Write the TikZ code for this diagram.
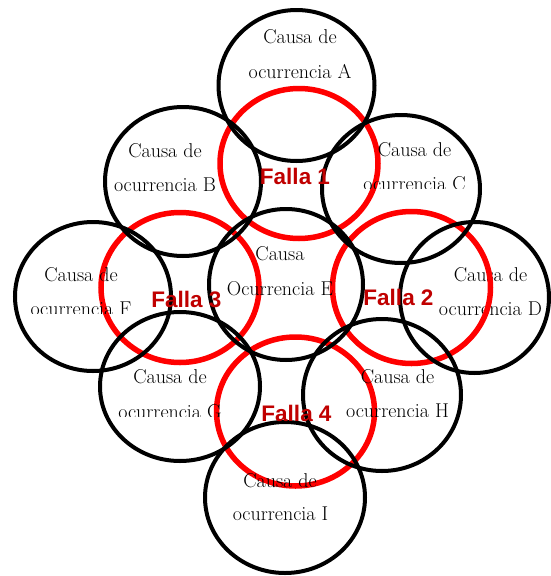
\documentclass[tikz,border=0pt]{standalone}
\usepackage{fontspec}
\newfontfamily\fallafont{Liberation Sans}
\definecolor{fallared}{RGB}{192,0,0}
\definecolor{ringred}{RGB}{255,0,0}
\begin{document}
\begin{tikzpicture}[x=1pt,y=-1pt,
  blackring/.style={draw=black,line width=4pt},
  redring/.style={draw=ringred,line width=5.5pt},
  causa/.style={font=\fontsize{20}{24}\selectfont,anchor=base,inner sep=0pt},
  falla/.style={font=\fallafont\bfseries\fontsize{22.5}{26}\selectfont,text=fallared,anchor=base,inner sep=0pt}]
\useasboundingbox (0,0) rectangle (551,576);
\fill[white] (0,0) rectangle (551,576);

% text of D lies under the red ring
\node[causa] (d1) at (490.5,281) {Causa de};
\node[causa] (d2) at (490.5,315) {ocurrencia D};

% red rings (fallas)
\draw[redring] (299,163.5) ellipse [x radius=79pt, y radius=75pt];
\draw[redring] (180,287.5) ellipse [x radius=79pt, y radius=75pt];
\draw[redring] (411.5,287.5) ellipse [x radius=79pt, y radius=76pt];
\draw[redring] (295.5,411.5) ellipse [x radius=79pt, y radius=74.5pt];

% black rings (causas)
\draw[blackring] (296.5,85.5) ellipse [x radius=78pt, y radius=75.5pt];
\draw[blackring] (183,181.5) ellipse [x radius=78pt, y radius=74.5pt];
\draw[blackring] (401,189) ellipse [x radius=79pt, y radius=74pt];
\draw[blackring] (93,296.5) ellipse [x radius=78pt, y radius=74.5pt];
\draw[blackring] (286,284.5) ellipse [x radius=77pt, y radius=75.5pt];
\draw[blackring] (474.5,297.5) ellipse [x radius=74.5pt, y radius=75.5pt];
\draw[blackring] (180,386.5) ellipse [x radius=80pt, y radius=74.5pt];
\draw[blackring] (382,395) ellipse [x radius=79pt, y radius=76pt];
\draw[blackring] (285,497.5) ellipse [x radius=80pt, y radius=75.5pt];

% causa texts
\node[causa] (a1) at (300,43) {Causa de};
\node[causa] (a2) at (300,78) {ocurrencia A};
\node[causa] (b1) at (165,157) {Causa de};
\node[causa] (b2) at (165,191) {ocurrencia B};
\node[causa] (c1) at (414.5,156) {Causa de};
\begin{scope}
  \clip (340,170) rectangle (480,188.5);
  \node[causa] (c2) at (414.5,190.5) {ocurrencia C};
\end{scope}
\node[causa] (f1) at (81,281) {Causa de};
\begin{scope}
  \clip (10,295) rectangle (150,313);
  \node[causa] (f2) at (81,315.5) {ocurrencia F};
\end{scope}
\node[causa] (e1) at (280,260) {Causa};
\node[causa] (e2) at (280,295) {Ocurrencia E};
\node[causa] (g1) at (170,383.5) {Causa de};
\begin{scope}
  \clip (100,398) rectangle (240,416.5);
  \node[causa] (g2) at (170,418) {ocurrencia G};
\end{scope}
\node[causa] (h1) at (397.5,383) {Causa de};
\begin{scope}
  \clip (330,398) rectangle (470,416);
  \node[causa] (h2) at (397.5,417.5) {ocurrencia H};
\end{scope}
\node[causa] (i1) at (280,487) {Causa de};
\node[causa] (i2) at (280.5,520) {ocurrencia I};

% falla labels
\node[falla] (f1lab) at (295,184) {Falla 1};
\node[falla] (f3lab) at (186.5,307) {Falla 3};
\node[falla] (f2lab) at (398.5,305) {Falla 2};
\node[falla] (f4lab) at (296.5,421) {Falla 4};
\end{tikzpicture}
\end{document}
